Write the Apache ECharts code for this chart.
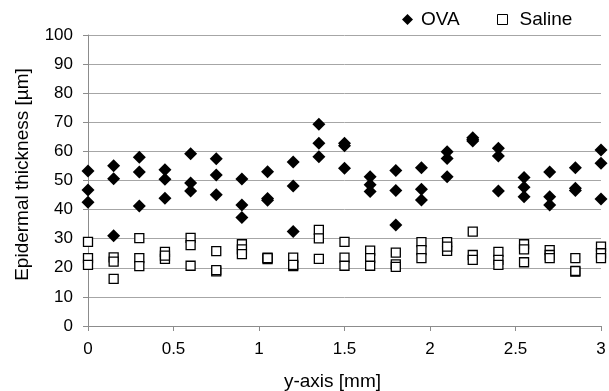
<!DOCTYPE html>
<html><head><meta charset="utf-8">
<script src="https://cdn.jsdelivr.net/npm/echarts@6/dist/echarts.min.js"></script>
<style>html,body{margin:0;padding:0;background:#fff}#c{width:609px;height:391px}</style>
</head><body><div id="c"></div>
<script>
const positions = [0,0.15,0.3,0.45,0.6,0.75,0.9,1.05,1.2,1.35,1.5,1.65,1.8,1.95,2.1,2.25,2.4,2.55,2.7,2.85,3.0];
const ovaValues = [
  [53.3,46.7,42.5],[55.1,50.6,31.0],[58.0,52.9,41.2],[53.7,50.4,43.9],[59.2,49.1,46.4],
  [57.5,51.9,45.1],[50.5,41.6,37.3],[53.0,43.8,43.2],[56.4,48.1,32.5],[69.3,62.8,58.2],
  [62.8,61.9,54.2],[51.3,48.5,46.2],[53.4,46.6,34.7],[54.4,47.0,43.3],[59.9,57.6,51.3],
  [64.7,63.6,64.1],[61.1,58.4,46.4],[51.0,47.7,44.4],[52.9,44.4,41.6],[54.4,47.3,46.6],
  [60.5,55.9,43.6]
];
const salineValues = [
  [28.9,23.3,21.0],[23.6,22.1,16.2],[30.2,23.3,20.6],[25.5,23.1,24.2],[30.3,27.8,20.7],
  [25.7,18.8,19.2],[28.1,26.3,24.7],[23.5,23.0,23.3],[23.5,20.6,21.0],[33.0,30.1,23.1],
  [28.9,23.5,20.7],[25.9,23.3,20.7],[25.2,21.2,20.3],[28.8,26.1,23.3],[28.8,25.8,27.3],
  [32.4,24.4,22.7],[25.5,22.7,21.0],[28.1,26.3,21.9],[26.1,24.4,23.3],[23.3,18.7,18.9],
  [27.3,25.0,23.3]
];
const xTicks = {min:0,max:3,interval:0.5};
const yTicks = {min:0,max:100,interval:10};

function toPoints(vals){const out=[];vals.forEach((arr,i)=>arr.forEach(v=>out.push([positions[i],v])));return out;}

const chart = echarts.init(document.getElementById('c'));
const font = 'Liberation Sans, Arial, sans-serif';
const legendText = {fontFamily:font,fontSize:19,color:'#000'};
chart.setOption({
  animation:false,
  backgroundColor:'#fff',
  textStyle:{fontFamily:font},
  grid:{left:88,right:8,top:35,bottom:65,containLabel:false,outerBoundsMode:'none'},
  legend:[
    {left:402,top:10,itemWidth:11,itemHeight:11,padding:0,
     textStyle:Object.assign({padding:[0,0,0,3]},legendText),
     data:[{name:'OVA',icon:'diamond',itemStyle:{color:'#000',opacity:1}}]},
    {left:497,top:10,itemWidth:10,itemHeight:10,padding:0,
     textStyle:Object.assign({padding:[0,0,0,7]},legendText),
     data:[{name:'Saline',icon:'rect',itemStyle:{color:'#fff',borderColor:'#000',borderWidth:1,opacity:1}}]}
  ],
  xAxis:{
    type:'value',min:xTicks.min,max:xTicks.max,interval:xTicks.interval,
    name:'y-axis [mm]',nameLocation:'middle',nameGap:46,
    nameTextStyle:{fontFamily:font,fontSize:19,color:'#000',padding:[0,24,0,0]},
    axisLine:{lineStyle:{color:'#8c8c8c'}},
    axisTick:{show:true,length:5,lineStyle:{color:'#8c8c8c'}},
    axisLabel:{fontFamily:font,fontSize:17,color:'#000',margin:15,
      formatter:v=>String(v)},
    splitLine:{show:false}
  },
  yAxis:{
    type:'value',min:yTicks.min,max:yTicks.max,interval:yTicks.interval,
    name:'Epidermal thickness [µm]',nameLocation:'middle',nameGap:56,
    nameTextStyle:{fontFamily:font,fontSize:19,color:'#000',padding:[0,0,0,12]},
    axisLine:{show:true,lineStyle:{color:'#8c8c8c'}},
    axisTick:{show:true,length:5,lineStyle:{color:'#8c8c8c'}},
    axisLabel:{fontFamily:font,fontSize:17,color:'#000',margin:15},
    splitLine:{show:true,lineStyle:{color:'#a6a6a6',width:1}}
  },
  series:[
    {name:'OVA',type:'scatter',symbol:'diamond',symbolSize:[13,13],
     itemStyle:{color:'#000',opacity:1},data:toPoints(ovaValues),z:3},
    {name:'Saline',type:'scatter',symbol:'rect',symbolSize:9,
     itemStyle:{color:'#fff',borderColor:'#000',borderWidth:1.3,opacity:1},data:toPoints(salineValues),z:2}
  ]
});
</script></body></html>
